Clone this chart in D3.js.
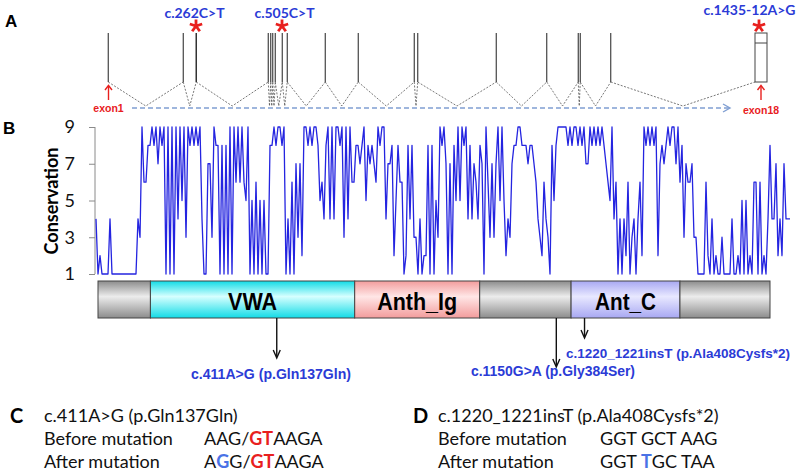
<!DOCTYPE html>
<html><head><meta charset="utf-8">
<script src="https://cdn.jsdelivr.net/npm/d3@7"></script>
<style>body{margin:0;background:#fff}svg{display:block}</style>
</head><body>
<svg id="c" width="800" height="476"></svg>
<script>
// ---------------- DATA ----------------
// Panel A: gene structure (relative genomic units)
const exonStarts = [0, 75, 87.5, 160, 162.5, 164.5, 167, 174, 179, 217, 250, 306, 309.5, 388, 438.5, 470, 472, 502.5, 647];
const exonEnds   = [0.5, 75.5, 89, 160.5, 163, 165, 167.5, 174.5, 179.5, 217.5, 250.5, 306.5, 310, 388.5, 439, 470.5, 472.5, 503, 659];
const geneMutLabels = ["c.262C>T", "c.505C>T", "c.1435-12A>G"];
const geneMutSites  = [88, 174, 651];
const geneMutLabelCenters = [86.5, 176.5, 641.5];
const exonMarkers = ["exon1", "exon18"];
const exonMarkerSites = [0.5, 653];

// Panel B: conservation score along the alignment
const conservation = [
  4,1,2,1,1,1,1,4,1,1,  1,1,1,1,1,1,1,1,1,1,  1,4,3,9,6,6,8,8,9,8,  9,7,9,8,9,1,9,1,9,1,
  9,4,9,5,9,3,9,8,9,8,  9,8,9,4,1,1,7,7,3,9,  8,8,1,8,1,8,1,9,1,9,  6,9,6,9,6,5,9,1,5,1,
  6,1,5,1,5,1,1,8,8,9,  8,9,9,8,9,1,4,1,6,1,  7,3,7,2,9,9,8,9,8,9,  9,8,5,6,4,8,9,4,9,4,
  9,9,8,9,3,9,4,9,6,6,  8,8,7,8,9,5,8,7,8,7,  6,9,8,9,9,4,7,7,8,2,  5,8,6,6,1,2,8,4,8,3,
  3,1,4,1,2,2,8,1,8,1,  5,3,9,8,9,7,1,7,1,8,  5,9,5,9,8,9,4,8,4,7,  6,4,8,7,1,9,6,3,7,3,
  7,9,5,9,5,2,4,3,7,8,  8,9,9,8,8,8,7,8,8,7,  6,4,3,2,6,4,3,1,8,5,  8,9,9,9,9,9,8,9,8,9,
  9,8,9,8,9,7,7,9,8,9,  8,9,8,9,8,7,6,5,9,4,  6,1,4,1,4,2,6,1,3,4,  1,4,6,2,9,8,9,8,9,8,
  9,2,7,8,7,8,9,8,9,9,  7,9,6,8,3,7,6,6,7,3,  3,1,1,1,1,6,2,1,4,1,  2,1,1,3,1,1,1,1,4,1,
  1,2,1,5,1,5,1,2,1,6,  6,1,6,1,2,1,4,8,4,4,  7,2,4,2,7,4,4,4
];
const consTicks = [1, 3, 5, 7, 9];

// Protein domains (residue-like units)
const domainNames  = ["", "VWA", "Anth_Ig", "", "Ant_C", ""];
const domainStarts = [0, 39, 191, 284, 352, 433];
const domainEnds   = [39, 191, 284, 352, 433, 500];
const protMutLabels = ["c.411A>G (p.Gln137Gln)", "c.1150G>A (p.Gly384Ser)", "c.1220_1221insT (p.Ala408Cysfs*2)"];
const protMutSites  = [133, 341, 362];

// Panels C and D
const panelCTitle = "c.411A>G (p.Gln137Gln)";
const panelDTitle = "c.1220_1221insT (p.Ala408Cysfs*2)";
const rowLabels = ["Before mutation", "After mutation"];
const seqC = [[["AAG/",""],["GT","red"],["AAGA",""]], [["A",""],["G","blue"],["G/",""],["GT","red"],["AAGA",""]]];
const seqD = [[["GGT GCT AAG",""]], [["GGT ",""],["T","blue"],["GC TAA",""]]];

// ---------------- DRAW ----------------
const svg = d3.select("#c");
const defs = svg.append("defs");
const calibri = "Lato, 'Open Sans', sans-serif";
const arial = "'Liberation Sans', Arial, sans-serif";
const narrow = "'Liberation Sans Narrow', 'Arial Narrow', 'Liberation Sans', sans-serif";
const blueTxt = "#2b3bd6";
const redC = "#e8201e";

// panel letters
svg.append("text").attr("x", 5).attr("y", 27).text("A").attr("font-family", arial).attr("font-weight", "bold").attr("font-size", 17);
svg.append("text").attr("x", 3).attr("y", 134).text("B").attr("font-family", arial).attr("font-weight", "bold").attr("font-size", 17);

// ----- Panel A
const gx = d3.scaleLinear().domain([0, 659]).range([108, 767]);
const exTop = 33, exBot = 82, apexY = 106;
const exons = exonStarts.map((s, i) => ({s, e: exonEnds[i]}));
const gA = svg.append("g");
for (let i = 0; i < exons.length - 1; i++) {
  const a = gx(exons[i].e), b = gx(exons[i + 1].s);
  const x1 = exons[i].e - exons[i].s > 5 ? a : gx((exons[i].s + exons[i].e) / 2);
  const x2 = exons[i + 1].e - exons[i + 1].s > 5 ? b : gx((exons[i + 1].s + exons[i + 1].e) / 2);
  gA.append("path").attr("d", d3.line()([[x1, exBot], [(x1 + x2) / 2, apexY], [x2, exBot]]))
    .attr("fill", "none").attr("stroke", "#555").attr("stroke-width", 0.8).attr("stroke-dasharray", "2,1.5");
}
gA.append("line").attr("x1", 132).attr("x2", 729).attr("y1", 108).attr("y2", 108)
  .attr("stroke", "#809fd2").attr("stroke-width", 1.6).attr("stroke-dasharray", "5,3");
gA.append("path").attr("d", "M723,104 L730,108 L723,112").attr("fill", "none").attr("stroke", "#809fd2").attr("stroke-width", 1.4);
exons.forEach(d => {
  const w = gx(d.e) - gx(d.s);
  if (w > 5) {
    gA.append("rect").attr("x", gx(d.s)).attr("y", exTop).attr("width", w).attr("height", exBot - exTop)
      .attr("fill", "#fff").attr("stroke", "#444").attr("stroke-width", 1);
    gA.append("line").attr("x1", gx(d.s)).attr("x2", gx(d.e)).attr("y1", exTop + 10).attr("y2", exTop + 10).attr("stroke", "#444");
  } else {
    const cx = gx((d.s + d.e) / 2);
    gA.append("line").attr("x1", cx).attr("x2", cx).attr("y1", exTop).attr("y2", exBot)
      .attr("stroke", "#333").attr("stroke-width", Math.max(1.1, w));
  }
});
const star = (cx, cy, r) => {
  let d = "";
  for (let k = 0; k < 5; k++) {
    const a = (-90 + k * 72) * Math.PI / 180;
    d += `M${cx},${cy} L${cx + r * Math.cos(a)},${cy + r * Math.sin(a)} `;
  }
  return d;
};
geneMutLabels.forEach((t, i) => {
  gA.append("text").attr("x", gx(geneMutLabelCenters[i])).attr("y", i === 2 ? 15 : 18).attr("text-anchor", "middle")
    .attr("font-family", calibri).attr("font-weight", "bold").attr("font-size", 14).attr("fill", blueTxt).text(t);
  gA.append("path").attr("d", star(gx(geneMutSites[i]), 26, 6.5)).attr("stroke", redC).attr("stroke-width", 2.8).attr("fill", "none");
});
exonMarkers.forEach((t, i) => {
  const x = gx(exonMarkerSites[i]);
  gA.append("line").attr("x1", x).attr("x2", x).attr("y1", 100).attr("y2", 86).attr("stroke", redC).attr("stroke-width", 1.4);
  gA.append("path").attr("d", `M${x - 3.5},${90} L${x},${85.5} L${x + 3.5},${90}`).attr("fill", "none").attr("stroke", redC).attr("stroke-width", 1.4);
  gA.append("text").attr("x", x).attr("y", i === 0 ? 112 : 114).attr("text-anchor", "middle")
    .attr("font-family", arial).attr("font-weight", "bold").attr("font-size", 10.5).attr("fill", redC).text(t);
});

// ----- Panel B
const cx = d3.scaleLinear().domain([0, conservation.length - 1]).range([96, 790]);
const cy = d3.scaleLinear().domain([1, 9]).range([274, 127]);
const yAxis = d3.axisLeft(cy).tickValues(consTicks).tickSize(6).tickPadding(14).tickFormat(d3.format("d"));
const gy = svg.append("g").attr("transform", "translate(95,0)").call(yAxis);
gy.selectAll("path,line").attr("stroke", "#8a8a8a").attr("stroke-width", 1);
gy.select(".domain").attr("d", `M0,${cy(9)} V${cy(1)}`);
gy.selectAll("text").attr("font-family", calibri).attr("font-size", 18).attr("fill", "#111");
svg.append("text").attr("transform", `translate(58,201) rotate(-90)`).attr("text-anchor", "middle")
  .attr("font-family", calibri).attr("font-weight", "bold").attr("font-size", 18).text("Conservation");
svg.append("path").datum(conservation)
  .attr("d", d3.line().x((d, i) => cx(i)).y(d => cy(d)))
  .attr("fill", "none").attr("stroke", "#2424e0").attr("stroke-width", 1.3).attr("stroke-linejoin", "round");

// ----- Domain bar
const px = d3.scaleLinear().domain([0, 500]).range([98, 770]);
const barTop = 281, barH = 37;
const domainFill = {"": ["#8c8c8c", "#ececec"], "VWA": ["#12dbe6", "#d6ffff"], "Anth_Ig": ["#f29c9c", "#ffe6e6"], "Ant_C": ["#a8a8f2", "#e8e8ff"]};
Object.keys(domainFill).forEach((k, i) => {
  const g = defs.append("linearGradient").attr("id", "gr" + i).attr("x1", 0).attr("y1", 0).attr("x2", 0).attr("y2", 1);
  g.append("stop").attr("offset", 0).attr("stop-color", domainFill[k][0]);
  g.append("stop").attr("offset", 0.42).attr("stop-color", domainFill[k][1]);
  g.append("stop").attr("offset", 1).attr("stop-color", domainFill[k][0]);
});
const keys = Object.keys(domainFill);
const textW = {"VWA": 49, "Anth_Ig": 80, "Ant_C": 61};
domainNames.forEach((n, i) => {
  svg.append("rect").attr("x", px(domainStarts[i])).attr("y", barTop).attr("width", px(domainEnds[i]) - px(domainStarts[i])).attr("height", barH)
    .attr("fill", `url(#gr${keys.indexOf(n)})`).attr("stroke", "#444").attr("stroke-width", 1);
  if (n) svg.append("text").attr("x", px((domainStarts[i] + domainEnds[i]) / 2)).attr("y", 310).attr("text-anchor", "middle")
    .attr("font-family", narrow).attr("font-weight", "bold").attr("font-size", 23)
    .attr("textLength", textW[n]).attr("lengthAdjust", "spacingAndGlyphs").text(n);
});
const arrowEnd = [358, 367, 338];
const labAnchor = [[191, 379, 160, 14], [471, 376, 164, 14], [566, 358, 224, 13]];
protMutLabels.forEach((t, i) => {
  const x = px(protMutSites[i]);
  svg.append("line").attr("x1", x).attr("x2", x).attr("y1", barTop + barH).attr("y2", arrowEnd[i] - 2).attr("stroke", "#111").attr("stroke-width", 1.4);
  svg.append("path").attr("d", `M${x - 3.5},${arrowEnd[i] - 8} L${x},${arrowEnd[i]} L${x + 3.5},${arrowEnd[i] - 8}`)
    .attr("fill", "none").attr("stroke", "#111").attr("stroke-width", 1.4);
  svg.append("text").attr("x", labAnchor[i][0]).attr("y", labAnchor[i][1])
    .attr("font-family", narrow).attr("font-weight", "bold").attr("font-size", labAnchor[i][3]).attr("fill", blueTxt)
    .attr("textLength", labAnchor[i][2]).attr("lengthAdjust", "spacingAndGlyphs").text(t);
});

// ----- Panels C & D
const colorMap = {"red": "#e8201e", "blue": "#4a72e6", "": "#111"};
function panel(letter, lx, tx, sx, title, seqs) {
  svg.append("text").attr("x", lx).attr("y", 423).attr("font-family", calibri).attr("font-weight", "bold").attr("font-size", 20).text(letter);
  svg.append("text").attr("x", tx).attr("y", 422).attr("font-family", calibri).attr("font-size", 18).attr("fill", "#111").text(title);
  rowLabels.forEach((r, j) => {
    const y = 445 + j * 23;
    svg.append("text").attr("x", tx).attr("y", y).attr("font-family", calibri).attr("font-size", 18).attr("fill", "#111").text(r);
    const t = svg.append("text").attr("x", sx).attr("y", y).attr("font-family", calibri).attr("font-size", 18);
    seqs[j].forEach(([s, c]) => t.append("tspan").text(s).attr("fill", colorMap[c]).attr("font-weight", c ? "bold" : "normal"));
  });
}
panel("C", 10, 44, 204, panelCTitle, seqC);
panel("D", 413, 438, 600, panelDTitle, seqD);
</script>
</body></html>
